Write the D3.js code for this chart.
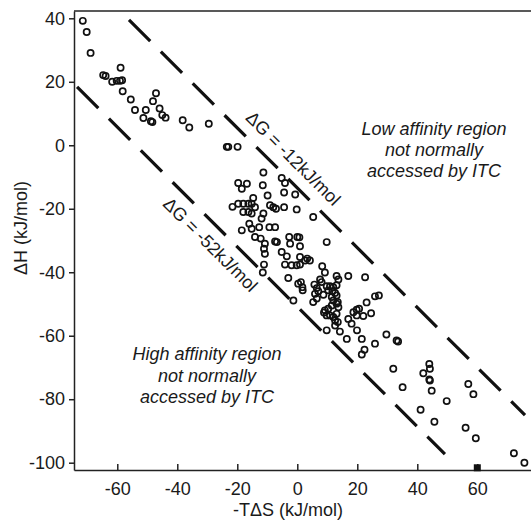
<!DOCTYPE html>
<html>
<head>
<meta charset="utf-8">
<script src="https://cdn.jsdelivr.net/npm/d3@7"></script>
<style>
  body { margin: 0; background: #fff; }
  text { font-family: Arial, "Liberation Sans", Helvetica, sans-serif; fill: #1a1a1a; }
</style>
</head>
<body>
<div id="chart"></div>
<script>
// chart size
var width = 531
var height = 523

// tick labels
var xTicks = [-60, -40, -20, 0, 20, 40, 60]
var yTicks = [40, 20, 0, -20, -40, -60, -80, -100]

// -TdS (x) and dH (y) for every measurement, kJ/mol
var minusTdS = [
  -71.5,-70.2,-68.9,-64.7,-63.9,-58.9,-61.7,-60.2,-59.1,-58.4,
  -58.2,-55.5,-54.1,-50.5,-51.3,-47.1,-48.1,-45.9,-45.0,-43.9,
  -48.8,-48.3,-38.2,-36.0,-29.5,-23.5,-23.0,-19.9,
  -11.3,-19.7,-18.5,-16.8,-11.5,-5.2,-4.1,-4.4,-0.7,-9.9,-14.7,
  -21.6,-19.7,-18.0,-16.3,-15.2,-14.1,-18.0,-16.3,-15.2,-9.1,-8.0,-7.1,-4.4,-0.2,
  -11.3,-11.9,5.3,-16.0,-15.2,-18.5,-12.7,-9.3,-7.4,
  -14.1,-12.2,-10.8,-11.1,-10.8,-7.4,-6.8,-2.7,0.0,0.7,-2.4,0.9,-5.2,-3.5,0.9,2.6,3.3,4.2,9.8,
  -11.1,-11.5,-4.1,-1.9,-0.2,0.9,-3.0,0.3,1.2,1.7,1.8,
  8.3,9.2,7.6,8.1,5.7,6.5,7.0,5.9,8.7,6.5,5.3,
  9.8,10.9,12.0,13.1,13.1,13.7,10.3,11.7,12.6,13.1,11.5,12.0,-1.3,13.5,17.0,22.6,
  9.2,10.3,11.5,13.1,13.7,9.8,10.9,12.0,13.1,12.6,13.5,8.9,12.6,9.8,14.2,
  17.0,18.1,18.7,19.8,20.6,19.8,22.0,24.6,23.1,25.9,27.2,
  19.9,16.5,21.5,29.7,33.1,33.6,25.9,22.4,21.5,
  32.0,35.1,44.0,44.2,42.0,44.0,44.2,44.8,49.8,41.1,45.7,57.0,58.7,56.1,59.5,72.2,75.7
]
var deltaH = [
  39.2,35.7,29.1,22.1,21.8,24.4,20.0,20.3,20.3,20.5,
  17.0,14.4,11.1,11.1,8.6,16.4,13.9,11.6,9.5,8.7,
  7.6,7.3,7.9,5.6,6.8,-0.5,-0.5,-0.5,
  -8.6,-11.9,-13.7,-12.1,-12.6,-10.3,-11.9,-14.9,-15.5,-15.8,-16.6,
  -19.4,-18.4,-18.4,-18.4,-18.4,-19.5,-21.0,-21.0,-21.5,-18.9,-19.5,-20.0,-19.5,-20.2,
  -21.5,-23.1,-22.6,-24.7,-26.3,-26.8,-25.8,-25.8,-25.8,
  -28.9,-29.4,-31.0,-32.6,-34.2,-30.3,-30.5,-28.9,-28.9,-29.0,-31.0,-31.8,-33.6,-35.0,-35.2,-36.3,-35.7,-36.3,-30.5,
  -37.6,-40.1,-37.6,-37.8,-37.8,-37.6,-41.8,-43.6,-43.1,-44.7,-45.7,
  -38.1,-40.1,-42.3,-43.1,-43.9,-45.0,-46.0,-46.8,-47.1,-48.3,-49.4,
  -44.4,-44.4,-44.7,-44.1,-41.2,-42.3,-45.7,-46.0,-46.5,-47.3,-47.8,-48.9,-48.9,-49.4,-41.2,-41.6,
  -52.0,-51.5,-50.5,-49.9,-51.0,-53.6,-53.6,-54.1,-53.1,-55.2,-55.7,-52.7,-56.8,-58.3,-58.7,
  -54.7,-56.2,-52.6,-51.8,-51.5,-53.6,-53.8,-52.9,-49.5,-47.6,-47.3,
  -58.3,-61.0,-61.0,-59.6,-61.5,-61.8,-62.5,-64.4,-65.9,
  -70.4,-76.2,-68.9,-70.4,-71.8,-73.8,-74.1,-77.3,-80.6,-83.3,-87.1,-75.2,-78.4,-89.0,-92.3,-97.0,-100.0
]

// the one filled square on the x axis
var squareTdS = [60]
var squareH = [-101.6]

// dG guide lines (end points in data units) and their labels
var guideLabels = ["ΔG = -12kJ/mol", "ΔG = -52kJ/mol"]
var guideX1 = [-56.1, -73.4]
var guideY1 = [39.5, 18.4]
var guideX2 = [75.9, 49.2]
var guideY2 = [-85.0, -97.3]
var guideLabelX = [-2.8, -30.4]
var guideLabelY = [-5.5, -32.7]

// region notes
var lowRegion = ["Low affinity region", "not normally", "accessed by ITC"]
var highRegion = ["High affinity region", "not normally", "accessed by ITC"]

window.onload = function () {
  var svg = d3.select("#chart")
    .append("svg")
      .attr("width", width)
      .attr("height", height)

  var x = d3.scaleLinear().domain([-74.43, 77.9]).range([74, 531])
  var y = d3.scaleLinear().domain([-102.3, 42.3]).range([470, 11])

  // plain hyphen for negatives, like the original
  var fmt = function (d) { return String(d) }

  // axes
  svg.append("g")
    .attr("transform", "translate(0,470)")
    .call(d3.axisBottom(x).tickValues(xTicks).tickFormat(fmt).tickSize(-6).tickSizeOuter(0).tickPadding(12))
  svg.append("g")
    .attr("transform", "translate(74,0)")
    .call(d3.axisLeft(y).tickValues(yTicks).tickFormat(fmt).tickSize(5).tickSizeOuter(0).tickPadding(4))

  svg.selectAll(".domain, .tick line").attr("stroke", "#222").attr("stroke-width", 1.5)
  svg.selectAll(".tick text").style("font-size", "18px").attr("fill", "#1a1a1a")

  // top border
  svg.append("line")
    .attr("x1", 74).attr("x2", 531)
    .attr("y1", 11).attr("y2", 11)
    .attr("stroke", "#222").attr("stroke-width", 1.5)

  // axis titles
  svg.append("text")
    .attr("x", 288).attr("y", 516)
    .attr("text-anchor", "middle")
    .style("font-size", "18px")
    .text("-TΔS (kJ/mol)")
  svg.append("text")
    .attr("transform", "translate(27,228) rotate(-90)")
    .attr("text-anchor", "middle")
    .style("font-size", "18px")
    .text("ΔH (kJ/mol)")

  // dashed guide lines
  guideLabels.forEach(function (lab, i) {
    svg.append("line")
      .attr("x1", x(guideX1[i])).attr("y1", y(guideY1[i]))
      .attr("x2", x(guideX2[i])).attr("y2", y(guideY2[i]))
      .attr("stroke", "#111")
      .attr("stroke-width", 3.2)
      .attr("stroke-dasharray", "30,15")
    var ang = Math.atan2(y(guideY2[i]) - y(guideY1[i]), x(guideX2[i]) - x(guideX1[i])) * 180 / Math.PI
    svg.append("text")
      .attr("transform", "translate(" + x(guideLabelX[i]) + "," + y(guideLabelY[i]) + ") rotate(" + ang + ")")
      .attr("text-anchor", "middle")
      .style("font-size", "18px")
      .text(lab)
  })

  // region notes
  svg.append("text")
    .attr("text-anchor", "middle")
    .style("font-size", "18px").style("font-style", "italic")
    .selectAll("tspan")
    .data(lowRegion)
    .enter().append("tspan")
      .attr("x", 434)
      .attr("y", function (d, i) { return 135 + i * 21 })
      .text(function (d) { return d })
  svg.append("text")
    .attr("text-anchor", "middle")
    .style("font-size", "18px").style("font-style", "italic")
    .selectAll("tspan")
    .data(highRegion)
    .enter().append("tspan")
      .attr("x", 207)
      .attr("y", function (d, i) { return 360 + i * 21.5 })
      .text(function (d) { return d })

  // data points
  svg.append("g")
    .selectAll("circle")
    .data(minusTdS)
    .enter().append("circle")
      .attr("cx", function (d) { return x(d) })
      .attr("cy", function (d, i) { return y(deltaH[i]) })
      .attr("r", 3.1)
      .attr("fill", "none")
      .attr("stroke", "#111")
      .attr("stroke-width", 1.7)

  svg.append("g")
    .selectAll("rect")
    .data(squareTdS)
    .enter().append("rect")
      .attr("x", function (d) { return x(d) - 3.5 })
      .attr("y", function (d, i) { return y(squareH[i]) - 3.5 })
      .attr("width", 7).attr("height", 7)
      .attr("fill", "#111")
}
</script>
</body>
</html>
